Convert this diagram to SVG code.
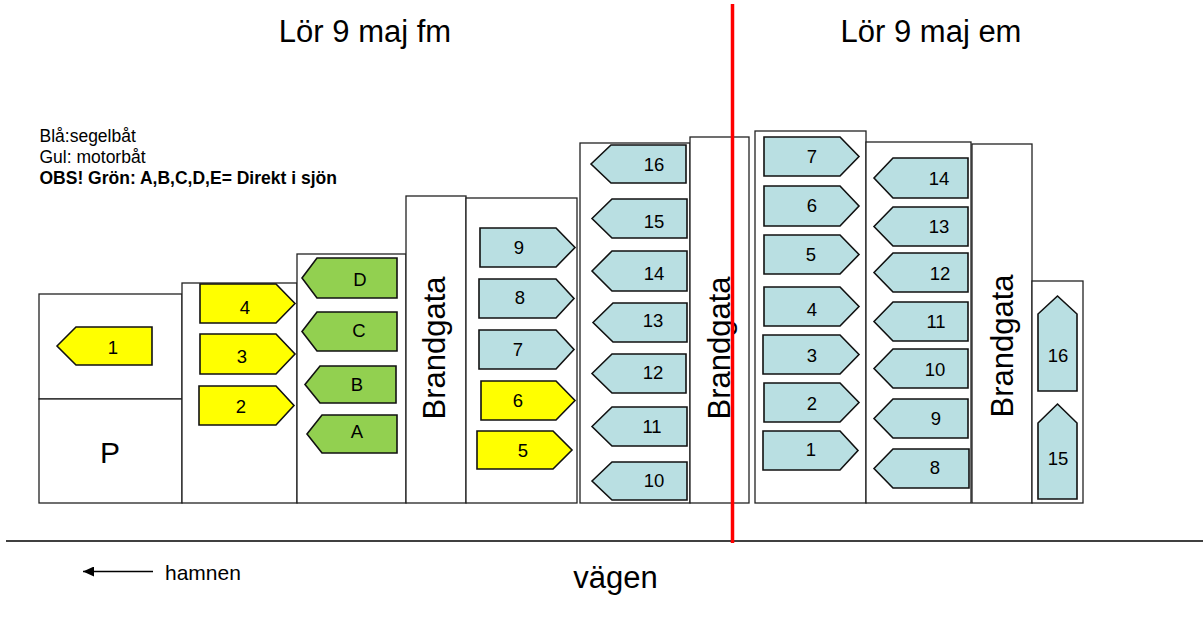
<svg xmlns="http://www.w3.org/2000/svg" width="1203" height="620" viewBox="0 0 1203 620">
<style>
text{font-family:"Liberation Sans",Arial,sans-serif;fill:#000}
.area{fill:#fff;stroke:#222;stroke-width:1.3}
.b{stroke:#111;stroke-width:1.6;stroke-linejoin:miter}
.y{fill:#ffff00}
.g{fill:#92d050}
.s{fill:#b9dfe2}
.n{font-size:18.5px;text-anchor:middle}
.big{font-size:31px;text-anchor:middle}
.leg{font-size:17.5px}
</style>
<defs>
<marker id="ah" markerWidth="12" markerHeight="10" refX="11" refY="5" orient="auto" markerUnits="userSpaceOnUse">
<path d="M0,0 L11,5 L0,10 Z" fill="#000"/>
</marker>
</defs>
<rect width="1203" height="620" fill="#fff"/>

<g id="titles">
<text class="big" x="365" y="42">Lör 9 maj fm</text>
<text class="big" x="931" y="42">Lör 9 maj em</text>
</g>

<g id="legend">
<text class="leg" x="39.5" y="142">Blå:segelbåt</text>
<text class="leg" x="39.5" y="163">Gul: motorbåt</text>
<text class="leg" x="39.5" y="184" font-weight="bold">OBS! Grön: A,B,C,D,E= Direkt i sjön</text>
</g>

<g id="area-1">
<rect class="area" x="39" y="294" width="143" height="105"/>
<polygon class="b y" points="57,346 76,327 152,327 152,365 76,365"/>
<text class="n" x="113" y="354">1</text>
</g>
<g id="area-P">
<rect class="area" x="39" y="399" width="143" height="104"/>
<text x="110" y="463" font-size="30" text-anchor="middle">P</text>
</g>

<g id="area-2">
<rect class="area" x="182" y="283" width="115" height="220"/>
<polygon class="b y" points="200,284 276,284 295,303.5 276,323 200,323"/>
<text class="n" x="245" y="314">4</text>
<polygon class="b y" points="200,334 276,334 295,354 276,374 200,374"/>
<text class="n" x="242" y="363">3</text>
<polygon class="b y" points="199,386 276,386 294,405.5 276,425 199,425"/>
<text class="n" x="241" y="413">2</text>
</g>

<g id="area-3">
<rect class="area" x="297" y="254" width="109" height="249"/>
<polygon class="b g" points="302,278 317,258 397,258 397,298 317,298"/>
<text class="n" x="360" y="286">D</text>
<polygon class="b g" points="302,331.5 317,312 397,312 397,351 317,351"/>
<text class="n" x="359" y="337">C</text>
<polygon class="b g" points="305,384.5 320,366 396,366 396,403 320,403"/>
<text class="n" x="357" y="391">B</text>
<polygon class="b g" points="307,434 322,415 397,415 397,453 322,453"/>
<text class="n" x="357" y="438">A</text>
</g>

<g id="brandgata-1">
<rect class="area" x="406" y="196" width="60" height="307"/>
<text class="big" transform="translate(445,348) rotate(-90)">Brandgata</text>
</g>

<g id="area-5">
<rect class="area" x="466" y="198" width="111" height="305"/>
<polygon class="b s" points="480,228 556,228 575,247.5 556,267 480,267"/>
<text class="n" x="519" y="254">9</text>
<polygon class="b s" points="479,279 556,279 574,298.5 556,318 479,318"/>
<text class="n" x="520" y="304">8</text>
<polygon class="b s" points="479,330 556,330 574,349.5 556,369 479,369"/>
<text class="n" x="518" y="356">7</text>
<polygon class="b y" points="481,381 556,381 575,400.5 556,420 481,420"/>
<text class="n" x="518" y="407">6</text>
<polygon class="b y" points="477,431 553,431 572,450 553,469 477,469"/>
<text class="n" x="523" y="457">5</text>
</g>

<g id="area-6">
<rect class="area" x="580" y="143" width="110" height="360"/>
<polygon class="b s" points="591,164 611,145 686,145 686,183 611,183"/>
<text class="n" x="654" y="171">16</text>
<polygon class="b s" points="592,218.5 612,199 687,199 687,238 612,238"/>
<text class="n" x="654" y="228">15</text>
<polygon class="b s" points="592,271 612,251 687,251 687,291 612,291"/>
<text class="n" x="654" y="280">14</text>
<polygon class="b s" points="593,322.5 613,303 687,303 687,342 613,342"/>
<text class="n" x="653" y="327">13</text>
<polygon class="b s" points="592,373.5 612,354 686,354 686,393 612,393"/>
<text class="n" x="653" y="379">12</text>
<polygon class="b s" points="592,426.5 612,407 687,407 687,446 612,446"/>
<text class="n" x="652" y="433">11</text>
<polygon class="b s" points="592,481 612,462 687,462 687,500 612,500"/>
<text class="n" x="654" y="487">10</text>
</g>

<g id="brandgata-2">
<rect class="area" x="690" y="137" width="59" height="366"/>
<text class="big" transform="translate(730,348) rotate(-90)">Brandgata</text>
</g>

<g id="area-8">
<rect class="area" x="755" y="131" width="111" height="372"/>
<polygon class="b s" points="764,137 840,137 859,156.5 840,176 764,176"/>
<text class="n" x="812" y="163">7</text>
<polygon class="b s" points="764,186 840,186 859,206 840,226 764,226"/>
<text class="n" x="812" y="212">6</text>
<polygon class="b s" points="764,235 840,235 859,254.5 840,274 764,274"/>
<text class="n" x="811" y="261">5</text>
<polygon class="b s" points="764,287 840,287 859,306.5 840,326 764,326"/>
<text class="n" x="812" y="316">4</text>
<polygon class="b s" points="763,335 840,335 859,354.5 840,374 763,374"/>
<text class="n" x="812" y="362">3</text>
<polygon class="b s" points="764,383 840,383 859,402.5 840,422 764,422"/>
<text class="n" x="812" y="410">2</text>
<polygon class="b s" points="763,431 840,431 858,450.5 840,470 763,470"/>
<text class="n" x="811" y="456">1</text>
</g>

<g id="area-9">
<rect class="area" x="866" y="142" width="105" height="361"/>
<polygon class="b s" points="874,178 893,158 968,158 968,198 893,198"/>
<text class="n" x="939" y="185">14</text>
<polygon class="b s" points="874,226.5 893,207 968,207 968,246 893,246"/>
<text class="n" x="939" y="233">13</text>
<polygon class="b s" points="874,272.5 893,253 968,253 968,292 893,292"/>
<text class="n" x="940" y="280">12</text>
<polygon class="b s" points="874,321.5 893,302 968,302 968,341 893,341"/>
<text class="n" x="936" y="328">11</text>
<polygon class="b s" points="874,368.5 893,349 968,349 968,388 893,388"/>
<text class="n" x="935" y="376">10</text>
<polygon class="b s" points="874,418.5 893,399 968,399 968,438 893,438"/>
<text class="n" x="936" y="425">9</text>
<polygon class="b s" points="874,468.5 893,449 969,449 969,488 893,488"/>
<text class="n" x="935" y="474">8</text>
</g>

<g id="brandgata-3">
<rect class="area" x="972" y="144" width="60" height="359"/>
<text class="big" transform="translate(1013,346) rotate(-90)">Brandgata</text>
</g>

<g id="area-11">
<rect class="area" x="1032" y="281" width="51" height="222"/>
<polygon class="b s" points="1057.5,296 1077,314 1077,391 1038,391 1038,314"/>
<text class="n" x="1058" y="362">16</text>
<polygon class="b s" points="1057.5,404 1077,423 1077,499 1038,499 1038,423"/>
<text class="n" x="1058" y="465">15</text>
</g>

<g id="road">
<line x1="6" y1="541" x2="1203" y2="541" stroke="#000" stroke-width="1.5"/>
<text x="615.5" y="588" font-size="31" text-anchor="middle">vägen</text>
<text x="165" y="580" font-size="21">hamnen</text>
</g>

<g id="divider">
<line x1="732.5" y1="4" x2="732.5" y2="543" stroke="#ff0000" stroke-width="3.5"/>
</g>

<g id="connectors">
<line x1="153" y1="571.5" x2="83" y2="571.5" stroke="#000" stroke-width="1.5" marker-end="url(#ah)"/>
</g>
</svg>
